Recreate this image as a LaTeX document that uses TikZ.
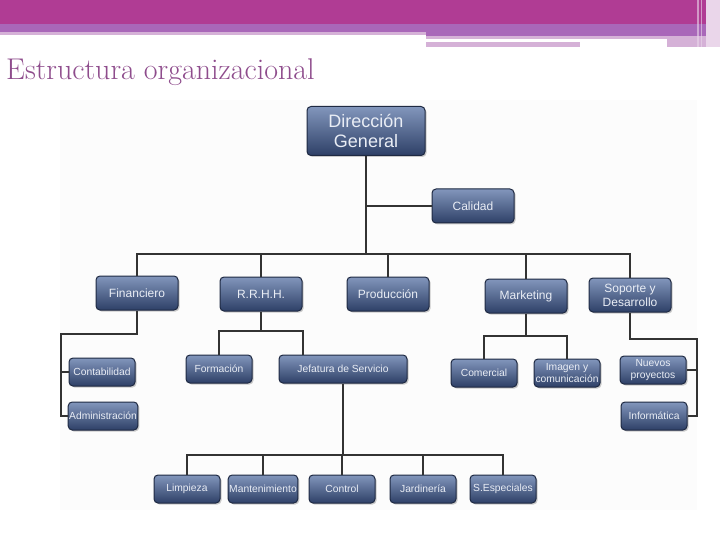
\documentclass[tikz,border=0pt]{standalone}
\usepackage{fontspec}
\setsansfont{Liberation Sans}
\usetikzlibrary{positioning,shadows,calc}
\definecolor{barmag}{HTML}{B03C94}
\definecolor{barpurple}{HTML}{A967B9}
\definecolor{barpink}{HTML}{D5B1D7}
\definecolor{barlight}{HTML}{EAD6EA}
\definecolor{titlepurple}{HTML}{8E4C8C}
\definecolor{boxtop}{HTML}{8296BC}
\definecolor{boxbot}{HTML}{2E4067}
\definecolor{boxline}{HTML}{1E2942}
\definecolor{boxtext}{HTML}{E9EDF5}
\definecolor{linkgray}{HTML}{333333}
\definecolor{panelgray}{HTML}{FCFCFC}
\tikzset{
  box/.style={draw=boxline, line width=1pt, rounded corners=4pt,
    top color=boxtop, bottom color=boxbot, text=boxtext, align=center,
    inner sep=1pt, drop shadow={opacity=0.4, shadow xshift=1.5pt, shadow yshift=-1.5pt}},
  bigbox/.style={box, minimum width=118pt, minimum height=49pt,
    font=\sffamily\fontsize{18}{20}\selectfont},
  midbox/.style={box, minimum width=82pt, minimum height=34pt,
    font=\sffamily\fontsize{12}{14}\selectfont},
  smallbox/.style={box, minimum width=66pt, minimum height=28pt,
    font=\sffamily\fontsize{10.3}{12}\selectfont},
  link/.style={draw=linkgray, line width=1.5pt},
  title/.style={text=titlepurple, inner sep=0pt, font=\fontsize{30}{30}\selectfont},
}

\begin{document}
\begin{tikzpicture}[x=1pt, y=-1pt]
  \useasboundingbox (0,0) rectangle (720,540);

  %% banner
  \fill[barmag] (0,0) rectangle (720,24);
  \fill[barpurple] (0,24) rectangle (426,32);
  \fill[barpink] (0,32) rectangle (426,35);
  \fill[barpurple] (426,24) rectangle (720,36);
  \fill[barpink] (426,36) rectangle (720,39);
  \fill[barpink] (426,42) rectangle (580,47);
  \fill[barpink] (667,39) rectangle (720,47);
  \fill[barlight] (706,0) rectangle (720,47);
  \fill[barlight, opacity=0.6] (697,0) rectangle (699,47);
  \fill[barlight, opacity=0.6] (701,0) rectangle (702,47);

  \node[title, anchor=base west] (title) at (6,80) {Estructura organizacional};

  \fill[panelgray] (60,100) rectangle (697,510);

  %% level 1
  \node[bigbox] (dg) at (366,131) {Dirección\\General};
  \node[midbox] (cal) at (473,206) {Calidad};

  %% level 2
  \node[midbox] (fin) at (137,293) {Financiero};
  \node[midbox] (rrhh) at (261,294) {R.R.H.H.};
  \node[midbox] (prod) at (388,294) {Producción};
  \node[midbox] (mkt) at (526,296) {Marketing};
  \node[midbox] (sop) at (630,295) {Soporte y\\Desarrollo};

  %% level 3
  \node[smallbox] (cont) at (102,372) {Contabilidad};
  \node[smallbox] (adm) at (103,416) {Administración};
  \node[smallbox] (form) at (219,369) {Formación};
  \node[smallbox, minimum width=128pt] (jef) at (343,369) {Jefatura de Servicio};
  \node[smallbox] (com) at (484,373) {Comercial};
  \node[smallbox, text depth=0pt] (img) at (567,373) {Imagen y\\comunicación};
  \node[smallbox] (nue) at (653,370) {Nuevos\\proyectos};
  \node[smallbox] (inf) at (654,416) {Informática};

  %% level 4
  \node[smallbox] (limp) at (187,489) {Limpieza};
  \node[smallbox] (mant) at (263,489) {Mantenimiento};
  \node[smallbox] (ctrl) at (342,489) {Control};
  \node[smallbox] (jard) at (423,489) {Jardinería};
  \node[smallbox] (esp) at (503,489) {S.Especiales};

  %% bends
  \coordinate (bus) at (366,254);
  \coordinate (finbus) at (61,334);
  \coordinate (rrbus) at (261,331);
  \coordinate (jefin) at (303,0);
  \coordinate (srvbus) at (343,455);
  \coordinate (mktbus) at (526,336);
  \coordinate (sopbus) at (697,339);

  \draw[link] (dg) -- (bus);
  \draw[link] (dg |- cal) -- (cal);
  \draw[link] (fin.north) |- (bus) -| (sop.north);
  \foreach \n in {rrhh,prod,mkt}
    \draw[link] (\n.north) -- (\n.north |- bus);

  \draw[link] (fin) |- (finbus) |- (adm.west);
  \draw[link] (finbus |- cont) -- (cont.west);

  \draw[link] (rrhh) -- (rrbus);
  \draw[link] (form.north) |- (rrbus) -| (jef.north -| jefin);

  \draw[link] (jef) -- (srvbus);
  \draw[link] (limp.north) |- (srvbus) -| (esp.north);
  \foreach \n in {mant,ctrl,jard}
    \draw[link] (\n.north) -- (\n.north |- srvbus);

  \draw[link] (mkt) -- (mktbus);
  \draw[link] (com.north) |- (mktbus) -| (img.north);

  \draw[link] (sop) |- (sopbus) |- (inf.east);
  \draw[link] (sopbus |- nue) -- (nue.east);
\end{tikzpicture}
\end{document}
